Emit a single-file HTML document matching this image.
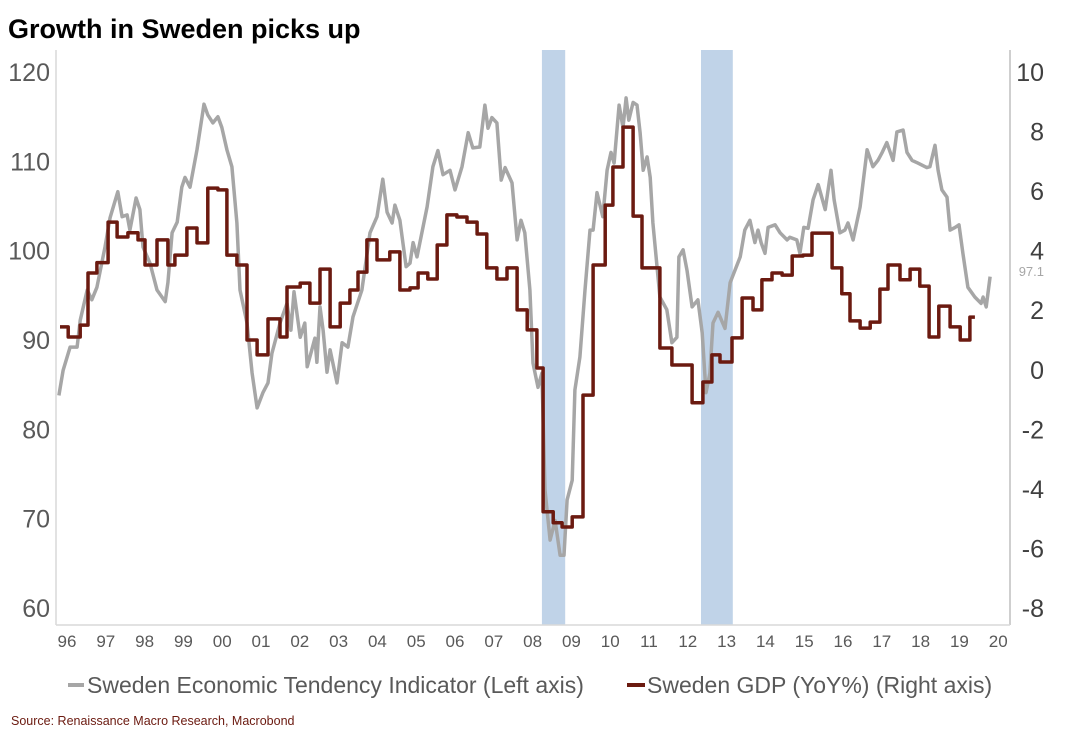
<!DOCTYPE html>
<html><head><meta charset="utf-8">
<style>
body{margin:0;background:#fff;width:1069px;height:742px;overflow:hidden;font-family:"Liberation Sans",sans-serif}
svg text{font-family:"Liberation Sans",sans-serif}
</style></head>
<body>
<svg id="chart" width="1069" height="742" viewBox="0 0 1069 742" xmlns="http://www.w3.org/2000/svg">
<text x="8" y="38" font-size="27" font-weight="bold" fill="#000">Growth in Sweden picks up</text>
<g id="bands"></g>
<line x1="56" y1="50" x2="56" y2="625" stroke="#d9d9d9" stroke-width="1.5"/>
<line x1="1010" y1="50" x2="1010" y2="625" stroke="#bfbfbf" stroke-width="1.5"/>
<line x1="56" y1="625" x2="1010" y2="625" stroke="#d9d9d9" stroke-width="1.5"/>
<g id="ticks"></g>
<g id="series"></g>
<text x="1044" y="276" font-size="13" fill="#a6a6a6" text-anchor="end">97.1</text>
<g>
<line x1="68" y1="685" x2="84" y2="685" stroke="#a6a6a6" stroke-width="4"/>
<text x="87" y="693" font-size="23" fill="#595959">Sweden Economic Tendency Indicator (Left axis)</text>
<line x1="627" y1="685" x2="645" y2="685" stroke="#6b1a10" stroke-width="4"/>
<text x="647" y="693" font-size="23" fill="#595959">Sweden GDP (YoY%) (Right axis)</text>
</g>
<text x="11" y="725" font-size="12.5" fill="#6b1a10">Source: Renaissance Macro Research, Macrobond</text>
</svg>
<script>
const xTickLabels=["96","97","98","99","00","01","02","03","04","05","06","07","08","09","10","11","12","13","14","15","16","17","18","19","20"];
const leftTicks=[60,70,80,90,100,110,120];
const rightTicks=[-8,-6,-4,-2,0,2,4,6,8,10];
const recessionStart=[2008.24,2012.34];
const recessionEnd=[2008.84,2013.16];
const etiDates=[1995.79,1995.90,1996.08,1996.26,1996.34,1996.52,1996.64,1996.77,1996.98,1997.11,1997.31,1997.42,1997.55,1997.62,1997.78,1997.88,1997.96,1998.14,1998.32,1998.53,1998.60,1998.71,1998.84,1998.96,1999.04,1999.17,1999.35,1999.53,1999.63,1999.76,1999.89,1999.99,2000.12,2000.25,2000.38,2000.46,2000.64,2000.77,2000.90,2001.05,2001.18,2001.28,2001.49,2001.67,2001.77,2001.85,2002.01,2002.13,2002.19,2002.31,2002.39,2002.44,2002.52,2002.60,2002.70,2002.78,2002.96,2003.09,2003.24,2003.37,2003.60,2003.81,2003.99,2004.14,2004.25,2004.38,2004.45,2004.58,2004.74,2004.84,2004.92,2005.02,2005.28,2005.43,2005.56,2005.69,2005.87,2006.00,2006.18,2006.34,2006.46,2006.64,2006.77,2006.85,2006.95,2007.08,2007.19,2007.29,2007.47,2007.60,2007.70,2007.80,2007.93,2008.01,2008.14,2008.24,2008.32,2008.45,2008.58,2008.71,2008.81,2008.89,2009.02,2009.09,2009.22,2009.35,2009.48,2009.56,2009.66,2009.81,2009.92,2010.02,2010.10,2010.23,2010.33,2010.41,2010.48,2010.59,2010.69,2010.77,2010.85,2010.95,2011.03,2011.10,2011.28,2011.46,2011.59,2011.72,2011.77,2011.88,2011.98,2012.11,2012.26,2012.37,2012.47,2012.57,2012.65,2012.78,2012.96,2013.09,2013.35,2013.47,2013.60,2013.73,2013.81,2013.89,2013.99,2014.07,2014.25,2014.38,2014.56,2014.63,2014.81,2014.89,2014.99,2015.10,2015.23,2015.36,2015.54,2015.69,2015.77,2015.92,2016.05,2016.13,2016.26,2016.44,2016.62,2016.77,2016.90,2017.01,2017.13,2017.29,2017.39,2017.55,2017.65,2017.78,2017.93,2018.16,2018.24,2018.37,2018.45,2018.55,2018.68,2018.76,2018.89,2018.99,2019.09,2019.22,2019.40,2019.56,2019.61,2019.69,2019.79];
const etiValues=[83.8,86.6,89.2,89.2,92.2,95.6,94.5,95.9,100.4,103.7,106.6,103.8,104.0,102.3,105.9,104.6,100.4,98.6,95.6,94.3,96.4,102.0,103.2,107.1,108.2,107.1,111.3,116.4,115.2,114.3,115.0,113.8,111.3,109.4,103.1,95.6,91.9,86.3,82.4,84.1,85.2,88.5,91.9,94.1,91.1,95.4,90.3,91.9,87.0,88.9,90.2,87.5,93.7,91.1,86.4,88.9,85.2,89.7,89.2,92.6,95.6,102.0,103.8,108.0,104.3,103.1,105.1,103.4,98.2,98.6,100.9,99.3,104.9,109.4,111.2,108.5,109.0,106.8,109.4,113.2,111.5,111.6,116.3,113.7,114.9,114.3,107.9,109.3,107.6,101.2,103.4,102.0,95.6,87.4,84.7,86.3,73.2,67.6,69.8,65.9,65.9,72.1,74.3,84.4,88.1,95.6,102.3,102.3,106.5,103.8,109.0,111.0,109.8,116.3,113.8,117.1,114.6,116.6,116.3,113.2,109.0,110.5,108.2,103.1,94.8,93.4,89.7,90.3,99.3,100.1,97.8,93.7,94.5,90.8,84.1,86.3,91.9,93.1,91.3,96.4,99.3,102.3,103.4,100.9,102.3,100.9,99.7,102.6,102.9,102.0,101.2,101.5,101.2,99.7,102.6,102.5,105.7,107.4,104.6,109.0,105.7,102.0,102.3,103.1,101.2,104.9,111.3,109.4,110.1,111.0,112.1,110.1,113.3,113.5,111.0,110.1,109.8,109.3,109.4,111.8,109.0,106.8,106.0,102.3,102.6,102.9,99.7,95.9,94.8,94.1,94.8,93.7,97.1];
const gdpDates=[1995.82,1996.03,1996.34,1996.54,1996.77,1997.06,1997.29,1997.57,1997.83,1998.01,1998.32,1998.60,1998.78,1999.09,1999.35,1999.63,1999.89,2000.12,2000.38,2000.64,2000.90,2001.18,2001.49,2001.67,2002.01,2002.26,2002.52,2002.78,2003.04,2003.29,2003.50,2003.73,2003.99,2004.32,2004.58,2004.84,2005.05,2005.30,2005.54,2005.79,2006.05,2006.31,2006.57,2006.82,2007.08,2007.34,2007.60,2007.86,2008.11,2008.27,2008.53,2008.76,2009.02,2009.30,2009.56,2009.87,2010.07,2010.33,2010.59,2010.82,2011.28,2011.59,2012.11,2012.39,2012.62,2012.83,2013.14,2013.40,2013.68,2013.91,2014.17,2014.43,2014.69,2014.97,2015.20,2015.72,2015.97,2016.18,2016.44,2016.70,2016.95,2017.16,2017.47,2017.73,2017.98,2018.22,2018.47,2018.76,2019.02,2019.27];
const gdpValues=[1.44,1.1,1.5,3.25,3.6,4.96,4.46,4.6,4.36,3.52,4.36,3.52,3.85,4.76,4.26,6.1,6.04,3.85,3.52,1.0,0.5,1.71,1.1,2.78,2.91,2.24,3.38,1.44,2.24,2.68,3.28,4.36,3.69,3.96,2.68,2.75,3.25,3.05,4.19,5.2,5.13,4.96,4.56,3.42,3.05,3.42,2.01,1.34,0.06,-4.77,-5.14,-5.28,-4.94,-0.85,3.52,5.53,6.81,8.15,5.16,3.42,0.73,0.16,-1.11,-0.41,0.5,0.26,1.07,2.41,2.01,3.02,3.25,3.18,3.82,3.85,4.59,3.42,2.55,1.64,1.4,1.6,2.71,3.52,3.02,3.38,2.81,1.1,2.14,1.44,1.0,1.77];
const gdpEnd=2019.40;

const NS="http://www.w3.org/2000/svg";
const X0=67,PXY=38.8,YT=72,YB=608;
function xs(t){return X0+(t-1996)*PXY;}
function yl(v){return YB-(v-60)/60*(YB-YT);}
function yr(v){return YB-(v+8)/18*(YB-YT);}
function mk(tag,parent){const e=document.createElementNS(NS,tag);document.getElementById(parent).appendChild(e);return e;}

for(let i=0;i<recessionStart.length;i++){
  const r=mk('rect','bands');
  
  
  r.setAttribute('x',xs(recessionStart[i]));r.setAttribute('y',50);
  r.setAttribute('width',xs(recessionEnd[i])-xs(recessionStart[i]));r.setAttribute('height',575);
  r.setAttribute('fill','#c0d3e8');
}
xTickLabels.forEach((lab,i)=>{
  const t=mk('text','ticks');
  
  
  t.setAttribute('x',xs(1996+i));t.setAttribute('y',647);
  t.setAttribute('font-size','17');t.setAttribute('fill','#595959');t.setAttribute('text-anchor','middle');
  t.textContent=lab;
});
leftTicks.forEach(v=>{
  const t=mk('text','ticks');
  
  
  t.setAttribute('x',50);t.setAttribute('y',yl(v)+9);
  t.setAttribute('font-size','25');t.setAttribute('fill','#595959');t.setAttribute('text-anchor','end');
  t.textContent=v;
});
rightTicks.forEach(v=>{
  const t=mk('text','ticks');
  
  
  t.setAttribute('x',1044);t.setAttribute('y',yr(v)+9);
  t.setAttribute('font-size','25');t.setAttribute('fill','#404040');t.setAttribute('text-anchor','end');
  t.textContent=v;
});
let d='';
etiDates.forEach((t,i)=>{d+=(i?'L':'M')+xs(t).toFixed(1)+','+yl(etiValues[i]).toFixed(1);});
const p1=mk('path','series');


p1.setAttribute('d',d);p1.setAttribute('fill','none');p1.setAttribute('stroke','#a6a6a6');p1.setAttribute('stroke-width','3.5');p1.setAttribute('stroke-linejoin','round');
let g='';
gdpDates.forEach((t,i)=>{
  const y=yr(gdpValues[i]).toFixed(1);
  const xe=i<gdpDates.length-1?gdpDates[i+1]:gdpEnd;
  g+=(i?'L':'M')+xs(t).toFixed(1)+','+y+'L'+xs(xe).toFixed(1)+','+y;
});
const p2=mk('path','series');


p2.setAttribute('d',g);p2.setAttribute('fill','none');p2.setAttribute('stroke','#6b1a10');p2.setAttribute('stroke-width','3.5');p2.setAttribute('stroke-linejoin','round');
</script>
</body></html>
